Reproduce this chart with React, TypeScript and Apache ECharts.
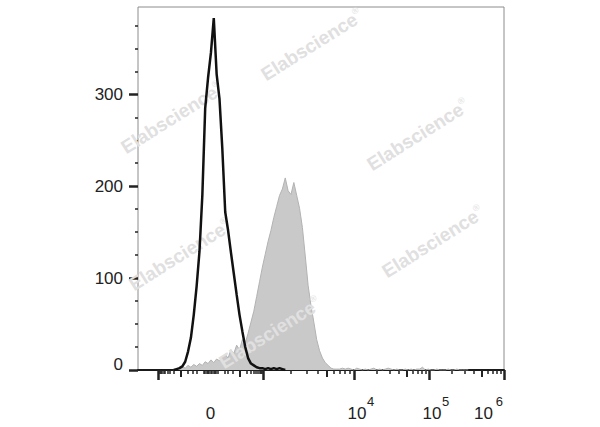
import React, { useEffect, useRef } from "react";
import * as echarts from "echarts";

// ---- Data (display channels 0..1024, 8 channels per histogram bin) ----
const BIN_WIDTH = 8;
const CONTROL_START_BIN = 12;
const controlCounts = [
  0, 1, 2, 4, 9, 20, 35, 60, 91, 129, 190, 285, 318, 345, 383, 322, 295, 240,
  172, 152, 128, 105, 82, 60, 42, 25, 13, 7, 5, 3, 2, 2, 1, 2, 1, 2, 1, 2, 1, 0,
];
const STAINED_START_BIN = 12;
const stainedCounts = [
  0, 1, 2, 4, 2, 5, 3, 6, 4, 7, 5, 9, 7, 11, 8, 12, 10, 14, 17, 13, 22, 18, 27,
  22, 33, 29, 40, 52, 64, 80, 96, 112, 126, 140, 152, 166, 178, 190, 197, 209,
  195, 191, 204, 190, 176, 155, 124, 92, 70, 52, 33, 21, 13, 8, 5, 2, 1, 1,
  // tail
  1, 2, 1, 2, 1, 0, 2, 1, 0, 1, 0, 1, 2, 0, 1, 0, 1, 2, 1, 0, 1, 0, 0, 1, 0, 1,
  0, 1, 1, 3, 0, 1, 0, 0, 1, 0, 0, 0, 1, 0, 0, 1, 0, 0, 0, 0,
];

// ---- Axis definitions ----
const X_LABEL_VALUES = [0, 1e4, 1e5, 1e6];
const X_LABEL_BASES = ["0", "10", "10", "10"];
const X_EXP_VALUES = [1e4, 1e5, 1e6];
const X_EXPONENTS = ["4", "5", "6"];
const X_MAJOR_TICKS = [-1000, 1000, 1e4, 1e5, 1e6];
const X_MID_TICKS = [-100, 100, 5000, 5e4, 5e5];
const Y_LABELS = [100, 200, 300];
const Y_ZERO_LABEL = [0];
const Y_MAJOR = [0, 100, 200, 300];
const Y_MINOR = [25, 50, 75, 125, 150, 175, 225, 250, 275, 325, 350, 375];
const Y_MAX = 395;

// biexponential display: fluorescence value -> display channel (0..1024)
const SCALE_ANCHORS: [number, number][] = [
  [-1000, 56.8],
  [-100, 120.3],
  [-10, 183.3],
  [10, 222.4],
  [100, 285.4],
  [1000, 349.7],
  [1e4, 604.3],
  [1e5, 814.2],
  [1e6, 1024],
];
function toChannel(v: number): number {
  const a = SCALE_ANCHORS;
  for (let i = 0; i < a.length - 1; i++) {
    const [v0, c0] = a[i];
    const [v1, c1] = a[i + 1];
    if (v >= v0 && v <= v1) {
      let t: number;
      if (v0 < 0 && v1 > 0) t = (v - v0) / (v1 - v0);
      else if (v0 > 0) t = (Math.log10(v) - Math.log10(v0)) / (Math.log10(v1) - Math.log10(v0));
      else t = (Math.log10(-v0) - Math.log10(-v)) / (Math.log10(-v0) - Math.log10(-v1));
      return c0 + t * (c1 - c0);
    }
  }
  return v < a[0][0] ? a[0][1] : a[a.length - 1][1];
}
function minorTickValues(): number[] {
  const out: number[] = [];
  for (let m = 2; m <= 9; m++) out.push(-m * 100);
  out.push(-50, -30, -20);
  for (let v = -10; v <= 10; v += 2) out.push(v);
  out.push(20, 30, 50);
  for (let d = 100; d <= 1e5; d *= 10) {
    for (let m = 2; m <= 9; m++) if (!(m === 5 && d >= 1000)) out.push(m * d);
  }
  return out;
}
function nearestIndex(channels: number[], val: number): number {
  let idx = 0;
  channels.forEach((c, i) => {
    if (Math.abs(c - val) < Math.abs(channels[idx] - val)) idx = i;
  });
  return idx;
}

const FONT = "Liberation Sans, Arial, sans-serif";
const TEXT = "#222";

export default function App() {
  const ref = useRef<HTMLDivElement>(null);
  useEffect(() => {
    if (!ref.current) return;
    const chart = echarts.init(ref.current, undefined, { renderer: "svg" });
    const toData = (start: number, counts: number[]) =>
      counts.map((c, i) => [(start + i) * BIN_WIDTH + BIN_WIDTH / 2, c]);
    const labelChannels = X_LABEL_VALUES.map(toChannel);
    const expChannels = X_EXP_VALUES.map(toChannel);
    const gridRect = { left: 138, top: 7, right: 96, bottom: 57 };
    const hiddenAxis = {
      axisLine: { show: false },
      axisLabel: { show: false },
      splitLine: { show: false },
    };
    const watermarkPos = [
      [312, 45],
      [172, 118],
      [418, 135],
      [433, 242],
      [180, 255],
      [270, 333],
    ];
    chart.setOption({
      animation: false,
      backgroundColor: "#fff",
      grid: [
        { ...gridRect, show: true, borderColor: "#8c8c8c", borderWidth: 1, outerBoundsMode: "none" },
        { ...gridRect, outerBoundsMode: "none" },
        { ...gridRect, outerBoundsMode: "none" },
      ],
      xAxis: [
        {
          gridIndex: 0,
          type: "value",
          min: 0,
          max: 1024,
          splitLine: { show: false },
          axisLine: { show: true, lineStyle: { color: "#1a1a1a", width: 2 } },
          axisTick: {
            show: true,
            customValues: X_MAJOR_TICKS.map(toChannel),
            length: 10,
            lineStyle: { color: TEXT, width: 2.5 },
          },
          axisLabel: {
            customValues: labelChannels,
            margin: 35,
            alignMaxLabel: "right",
            formatter: (val: number) => {
              const i = nearestIndex(labelChannels, val);
              if (i === 0) return `{z|${X_LABEL_BASES[i]}}`;
              if (i === labelChannels.length - 1) return `{q|${X_LABEL_BASES[i]}}`;
              return `{p|${X_LABEL_BASES[i]}}`;
            },
            rich: {
              z: { fontSize: 17, color: TEXT, fontFamily: FONT },
              p: { fontSize: 17, color: TEXT, fontFamily: FONT, padding: [0, 0, 0, 6] },
              q: { fontSize: 17, color: TEXT, fontFamily: FONT, padding: [0, 11, 0, 0] },
            },
          },
        },
        {
          gridIndex: 1,
          type: "value",
          min: 0,
          max: 1024,
          splitLine: { show: false },
          axisLine: { show: false },
          axisTick: { show: true, customValues: X_MID_TICKS.map(toChannel), length: 7, lineStyle: { color: TEXT, width: 2 } },
          axisLabel: {
            show: true,
            customValues: expChannels,
            margin: 25,
            align: "left",
            alignMaxLabel: "right",
            formatter: (val: number) => {
              const i = nearestIndex(expChannels, val);
              return i === expChannels.length - 1 ? `{f|${X_EXPONENTS[i]}}` : `{e|${X_EXPONENTS[i]}}`;
            },
            rich: {
              e: { fontSize: 13, color: TEXT, fontFamily: FONT, padding: [0, 0, 0, 13] },
              f: { fontSize: 13, color: TEXT, fontFamily: FONT, padding: [0, 1, 0, 0] },
            },
          },
        },
        {
          gridIndex: 2,
          type: "value",
          min: 0,
          max: 1024,
          ...hiddenAxis,
          axisTick: { show: true, customValues: minorTickValues().map(toChannel), length: 4, lineStyle: { color: TEXT, width: 1.5 } },
        },
      ],
      yAxis: [
        {
          gridIndex: 0,
          type: "value",
          min: 0,
          max: Y_MAX,
          splitLine: { show: false },
          axisLine: { show: false },
          axisTick: { show: true, customValues: Y_MAJOR, length: 9, lineStyle: { color: TEXT, width: 2.5 } },
          axisLabel: { customValues: Y_LABELS, margin: 15, fontSize: 17, color: TEXT, fontFamily: FONT },
        },
        {
          gridIndex: 1,
          type: "value",
          min: 0,
          max: Y_MAX,
          splitLine: { show: false },
          axisLine: { show: false },
          axisTick: { show: true, customValues: Y_MINOR, length: 3, lineStyle: { color: TEXT, width: 1.5 } },
          axisLabel: {
            show: true,
            customValues: Y_ZERO_LABEL,
            margin: 15,
            fontSize: 17,
            color: TEXT,
            fontFamily: FONT,
            verticalAlign: "bottom",
            lineHeight: 12,
          },
        },
        { gridIndex: 2, type: "value", min: 0, max: Y_MAX, show: false },
      ],
      graphic: watermarkPos.map(([x, y]) => ({
        type: "text",
        x,
        y,
        rotation: 0.56,
        z: 3,
        silent: true,
        style: {
          text: "{w|Elabscience}{r|®}",
          align: "center",
          verticalAlign: "middle",
          rich: {
            w: { fontSize: 19, fontWeight: "bold", fill: "#e0e0e0", color: "#e0e0e0", fontFamily: FONT },
            r: { fontSize: 9, fill: "#e0e0e0", color: "#e0e0e0", fontFamily: FONT, padding: [0, 0, 12, 0] },
          },
        },
      })),
      series: [
        {
          name: "Stained",
          type: "line",
          xAxisIndex: 0,
          yAxisIndex: 0,
          data: toData(STAINED_START_BIN, stainedCounts),
          symbol: "none",
          z: 1,
          lineStyle: { color: "#b2b2b2", width: 1 },
          areaStyle: { color: "#c9c9c9", opacity: 1 },
        },
        {
          name: "Control",
          type: "line",
          xAxisIndex: 0,
          yAxisIndex: 0,
          data: toData(CONTROL_START_BIN, controlCounts),
          symbol: "none",
          z: 10,
          lineStyle: { color: "#111", width: 2.5 },
        },
      ],
    });
    return () => chart.dispose();
  }, []);
  return (
    <div
      ref={ref}
      style={{ position: "fixed", left: 0, top: 0, width: 600, height: 427, background: "#fff" }}
    />
  );
}
